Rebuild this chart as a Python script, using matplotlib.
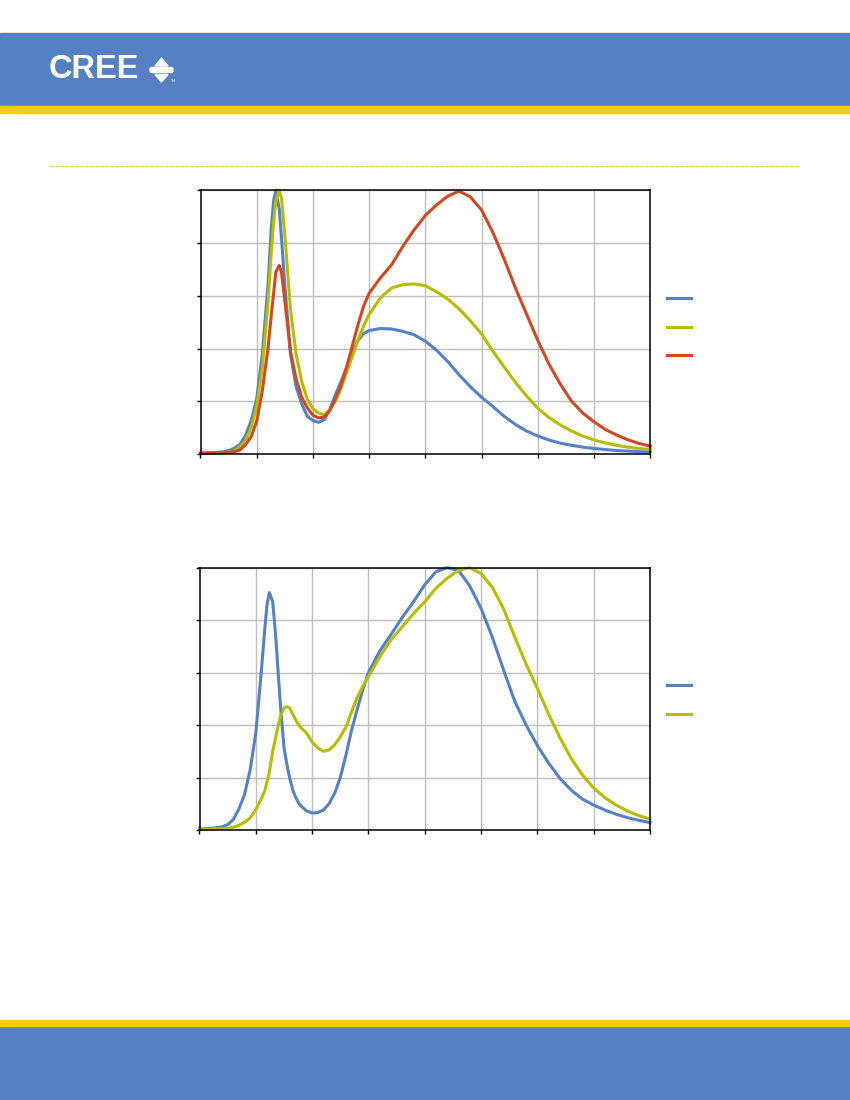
import matplotlib.pyplot as plt
from matplotlib.patches import Rectangle, Polygon, FancyBboxPatch
from matplotlib.lines import Line2D

# wavelength grid (nm) and relative intensity
wl_top = [380, 390, 400, 405, 410, 415, 420, 425, 430, 435, 440, 443, 445, 447, 450,
          452, 455, 460, 465, 470, 475, 480, 485, 490, 495, 500, 505, 510, 515, 520,
          525, 530, 540, 550, 560, 570, 580, 590, 600, 610, 620, 630, 640, 650, 660,
          670, 680, 690, 700, 710, 720, 730, 740, 750, 760, 770, 780]
blue_top = [0.003, 0.005, 0.008, 0.013, 0.022, 0.036, 0.07, 0.125, 0.21, 0.38, 0.64, 0.86, 0.96, 1.0, 0.93,
            0.82, 0.64, 0.38, 0.255, 0.19, 0.143, 0.127, 0.12, 0.13, 0.17, 0.225, 0.275, 0.33, 0.385, 0.43,
            0.457, 0.468, 0.476, 0.474, 0.465, 0.452, 0.428, 0.393, 0.35, 0.30, 0.255, 0.215, 0.18, 0.143, 0.112,
            0.087, 0.068, 0.053, 0.041, 0.033, 0.026, 0.021, 0.017, 0.013, 0.011, 0.009, 0.008]
yellow_top = [0.002, 0.003, 0.005, 0.007, 0.012, 0.027, 0.05, 0.1, 0.18, 0.33, 0.57, 0.77, 0.88, 0.96, 1.0,
              0.97, 0.83, 0.55, 0.38, 0.275, 0.207, 0.172, 0.155, 0.149, 0.168, 0.2, 0.25, 0.31, 0.37, 0.43,
              0.485, 0.53, 0.592, 0.63, 0.642, 0.645, 0.638, 0.615, 0.587, 0.55, 0.505, 0.455, 0.39, 0.33, 0.272,
              0.22, 0.173, 0.138, 0.11, 0.087, 0.068, 0.053, 0.042, 0.033, 0.026, 0.021, 0.017]
red_top = [0.003, 0.004, 0.005, 0.006, 0.009, 0.015, 0.035, 0.065, 0.125, 0.24, 0.4, 0.53, 0.61, 0.69, 0.715,
           0.69, 0.58, 0.39, 0.285, 0.215, 0.175, 0.147, 0.137, 0.14, 0.165, 0.21, 0.26, 0.33, 0.41, 0.49,
           0.56, 0.61, 0.668, 0.718, 0.788, 0.85, 0.905, 0.945, 0.978, 0.997, 0.975, 0.925, 0.84, 0.74, 0.63,
           0.53, 0.43, 0.34, 0.265, 0.2, 0.155, 0.122, 0.093, 0.072, 0.054, 0.04, 0.03]

wl_bot = [380, 390, 400, 405, 410, 415, 420, 425, 430, 435, 438, 440, 442, 445, 448, 450, 452, 455, 458,
          460, 463, 465, 468, 470, 475, 480, 485, 490, 495, 500, 505, 510, 515, 520, 525, 530, 540,
          550, 560, 570, 580, 590, 600, 610, 620, 630, 640, 650, 660, 670, 680, 690, 700, 710, 720,
          730, 740, 750, 760, 770, 780]
blue_bot = [0.004, 0.006, 0.012, 0.02, 0.04, 0.08, 0.135, 0.23, 0.37, 0.61, 0.77, 0.86, 0.905, 0.87, 0.72, 0.59, 0.47, 0.315, 0.24,
            0.2, 0.15, 0.128, 0.103, 0.092, 0.073, 0.065, 0.066, 0.076, 0.1, 0.14, 0.2, 0.285, 0.38, 0.46, 0.535, 0.60, 0.682,
            0.745, 0.81, 0.87, 0.935, 0.985, 1.0, 0.99, 0.93, 0.845, 0.735, 0.61, 0.49, 0.4, 0.322, 0.255, 0.197, 0.152, 0.118,
            0.095, 0.076, 0.06, 0.047, 0.037, 0.028]
yellow_bot = [0.003, 0.004, 0.005, 0.007, 0.011, 0.018, 0.03, 0.046, 0.078, 0.12, 0.15, 0.185, 0.22, 0.3, 0.36, 0.4, 0.435, 0.465, 0.47,
              0.465, 0.44, 0.423, 0.4, 0.39, 0.37, 0.336, 0.313, 0.3, 0.305, 0.325, 0.355, 0.392, 0.45, 0.505, 0.548, 0.585, 0.66,
              0.725, 0.775, 0.825, 0.87, 0.922, 0.96, 0.99, 1.0, 0.978, 0.925, 0.843, 0.735, 0.632, 0.54, 0.442, 0.352, 0.273, 0.21,
              0.16, 0.123, 0.095, 0.072, 0.055, 0.042]

x_ticks = [380, 430, 480, 530, 580, 630, 680, 730, 780]
y_ticks = [0, 0.2, 0.4, 0.6, 0.8, 1.0]

BLUE = '#5581C6'
YELLOW = '#B7BD00'
RED = '#D4481F'
BAND = '#5581C3'
GOLD = '#FFCC00'

W, H = 850, 1100
fig = plt.figure(figsize=(W / 100, H / 100), dpi=100)


def fx(px):
    return px / W


def fy(py):
    return 1 - py / H


# header / footer bands
fig.patches.append(Rectangle((0, fy(106)), 1, fy(33) - fy(106), transform=fig.transFigure, color=BAND, zorder=0))
fig.patches.append(Rectangle((0, fy(113)), 1, fy(106) - fy(113), transform=fig.transFigure, color=GOLD, zorder=0))
fig.patches.append(Rectangle((0, 0), 1, fy(1026), transform=fig.transFigure, color=BAND, zorder=0))
fig.patches.append(Rectangle((0, fy(1026)), 1, fy(1020) - fy(1026), transform=fig.transFigure, color=GOLD, zorder=0))
fig.add_artist(Line2D([fx(50), fx(800)], [fy(166), fy(166)], color=GOLD, lw=0.9, ls=(0, (2.5, 1.5))))

# logo
fig.text(fx(49), fy(70), 'CREE', color='white', fontsize=23.5, fontweight='bold',
         family='Liberation Sans', va='center', ha='left')
fig.patches.append(Polygon([(fx(155), fy(66)), (fx(168), fy(66)), (fx(161.5), fy(58))],
                           transform=fig.transFigure, color='white'))
fig.patches.append(Polygon([(fx(155), fy(74.5)), (fx(168), fy(74.5)), (fx(161.5), fy(82))],
                           transform=fig.transFigure, color='white'))
fig.patches.append(FancyBboxPatch((fx(150), fy(72.5)), fx(23), fy(67.5) - fy(72.5),
                                  boxstyle='round,pad=0,rounding_size=0.002',
                                  transform=fig.transFigure, color='white'))
fig.text(fx(170), fy(80.5), 'TM', color='white', fontsize=2.5, va='center', ha='left')


def style(ax):
    ax.set_xlim(380, 780)
    ax.set_ylim(0, 1)
    ax.set_xticks(x_ticks)
    ax.set_yticks(y_ticks)
    ax.set_xticklabels([])
    ax.set_yticklabels([])
    ax.grid(True, color='#BEBEBE', lw=1.0)
    ax.set_axisbelow(True)
    ax.tick_params(direction='out', length=3, width=1, color='black')
    for s in ax.spines.values():
        s.set_linewidth(1.1)
        s.set_color('black')


ax1 = fig.add_axes([fx(200.5), fy(454), fx(650.3) - fx(200.5), fy(190.3) - fy(454)])
ax1.plot(wl_top, blue_top, color=BLUE, lw=2.2, clip_on=False)
ax1.plot(wl_top, yellow_top, color=YELLOW, lw=2.2, clip_on=False)
ax1.plot(wl_top, red_top, color=RED, lw=2.2, clip_on=False)
style(ax1)
ax1.legend([' ', ' ', ' '], loc='center left', bbox_to_anchor=(1.009, 0.48), frameon=False,
           handlelength=1.75, fontsize=10, labelspacing=1.05)

ax2 = fig.add_axes([fx(199.5), fy(830), fx(650) - fx(199.5), fy(567.7) - fy(830)])
ax2.plot(wl_bot, blue_bot, color=BLUE, lw=2.2, clip_on=False)
ax2.plot(wl_bot, yellow_bot, color=YELLOW, lw=2.2, clip_on=False)
style(ax2)
ax2.legend([' ', ' '], loc='center left', bbox_to_anchor=(1.009, 0.495), frameon=False,
           handlelength=1.75, fontsize=10, labelspacing=1.05)

fig.savefig('out.png', dpi=100)
